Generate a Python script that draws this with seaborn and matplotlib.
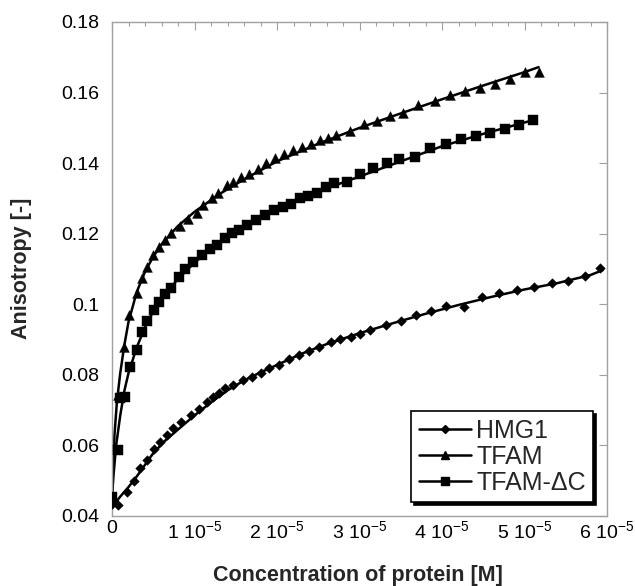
import matplotlib
matplotlib.use("Agg")
import matplotlib.pyplot as plt
import seaborn as sns
import numpy as np
import pandas as pd
from matplotlib.lines import Line2D
from matplotlib.ticker import FixedLocator, FixedFormatter, MultipleLocator

# ---- data (concentration in units of 1e-5 M) ----
hmg1_x = [0, 0.077, 0.178, 0.27, 0.34, 0.42, 0.513, 0.582, 0.663, 0.743,
          0.836, 0.958, 1.055, 1.148, 1.228, 1.30, 1.37, 1.47, 1.584, 1.693,
          1.802, 1.907, 2.028, 2.149, 2.27, 2.392, 2.513, 2.65, 2.764, 2.893,
          3.006, 3.127, 3.321, 3.5, 3.685, 3.863, 4.048, 4.267, 4.481, 4.695,
          4.905, 5.115, 5.33, 5.53, 5.733, 5.915]
hmg1_y = [0.0435, 0.0430, 0.0468, 0.0500, 0.0535, 0.0560, 0.0590, 0.0610, 0.0630, 0.0650,
          0.0667, 0.0685, 0.0703, 0.0722, 0.0737, 0.0748, 0.0762, 0.0771, 0.0785, 0.0795,
          0.0806, 0.0819, 0.0829, 0.0845, 0.0856, 0.0869, 0.0880, 0.0894, 0.0901, 0.0908,
          0.0916, 0.0927, 0.0940, 0.0953, 0.0969, 0.0981, 0.0995, 0.0993, 0.1020, 0.1033,
          0.1040, 0.1048, 0.1059, 0.1067, 0.1080, 0.1102]

tfam_x = [0, 0.07, 0.15, 0.21, 0.30, 0.36, 0.43, 0.50, 0.57, 0.64,
          0.72, 0.82, 0.925, 1.027, 1.107, 1.208, 1.289, 1.39, 1.47, 1.56,
          1.66, 1.77, 1.87, 1.98, 2.09, 2.19, 2.30, 2.41, 2.52, 2.62,
          2.72, 2.885, 3.055, 3.21, 3.37, 3.53, 3.715, 3.915, 4.10, 4.28,
          4.46, 4.64, 4.82, 5.00, 5.17]
tfam_y = [0.0445, 0.0743, 0.0880, 0.0970, 0.1031, 0.1074, 0.1107, 0.1140, 0.1163, 0.1182,
          0.1201, 0.1222, 0.1242, 0.1260, 0.1282, 0.1300, 0.1315, 0.1338, 0.1347, 0.1360,
          0.1368, 0.1382, 0.1401, 0.1415, 0.1425, 0.1437, 0.1447, 0.1454, 0.1466, 0.1470,
          0.1480, 0.1492, 0.1510, 0.1519, 0.1534, 0.1543, 0.1565, 0.1576, 0.1593, 0.1605,
          0.1612, 0.1623, 0.1638, 0.1657, 0.1657]

tfamdc_x = [0, 0.07, 0.10, 0.16, 0.22, 0.30, 0.36, 0.43, 0.51, 0.57,
            0.64, 0.715, 0.81, 0.89, 0.985, 1.087, 1.188, 1.277, 1.37, 1.45,
            1.543, 1.633, 1.745, 1.855, 1.964, 2.07, 2.166, 2.279, 2.38, 2.48,
            2.594, 2.69, 2.845, 3.006, 3.167, 3.33, 3.483, 3.673, 3.855, 4.045,
            4.23, 4.408, 4.582, 4.764, 4.937, 5.107]
tfamdc_y = [0.0455, 0.0587, 0.0735, 0.0738, 0.0823, 0.0870, 0.0922, 0.0953, 0.0984, 0.1007,
            0.1029, 0.1045, 0.1076, 0.1099, 0.1119, 0.1139, 0.1157, 0.1168, 0.1187, 0.1201,
            0.1211, 0.1225, 0.1239, 0.1253, 0.1267, 0.1277, 0.1284, 0.1300, 0.1307, 0.1316,
            0.1333, 0.1343, 0.1347, 0.1369, 0.1385, 0.1400, 0.1411, 0.1418, 0.1442, 0.1454,
            0.1468, 0.1477, 0.1486, 0.1497, 0.1508, 0.1522]

# fitted curves
hmg1_fit_x = [0, 0.05, 0.1, 0.2, 0.3, 0.4, 0.5, 0.65, 0.8, 1.0, 1.2, 1.4, 1.6, 1.8,
              2.0, 2.3, 2.6, 3.0, 3.4, 3.8, 4.2, 4.6, 5.0, 5.4, 5.8, 5.95]
hmg1_fit_y = [0.0430, 0.0440, 0.0455, 0.0482, 0.0512, 0.0545, 0.0578, 0.0615, 0.0645, 0.0685,
              0.0722, 0.0756, 0.0784, 0.0807, 0.0828, 0.0860, 0.0887, 0.0918, 0.0946, 0.0973,
              0.0998, 0.1021, 0.1042, 0.1060, 0.1083, 0.1097]
tfam_fit_x = [0, 0.01, 0.03, 0.06, 0.1, 0.15, 0.2, 0.3, 0.4, 0.5, 0.6, 0.8, 1.0, 1.3,
              1.6, 2.0, 2.5, 3.0, 3.5, 4.0, 4.5, 5.0, 5.17]
tfam_fit_y = [0.0445, 0.0520, 0.0630, 0.0725, 0.0805, 0.0885, 0.0950, 0.1035, 0.1092, 0.1135,
              0.1170, 0.1222, 0.1262, 0.1312, 0.1354, 0.1405, 0.1455, 0.1500, 0.1541, 0.1581,
              0.1620, 0.1658, 0.1672]
tfamdc_fit_x = [0, 0.02, 0.05, 0.1, 0.15, 0.2, 0.3, 0.4, 0.5, 0.6, 0.8, 1.0, 1.3, 1.6,
                2.0, 2.5, 3.0, 3.5, 4.0, 4.5, 5.107]
tfamdc_fit_y = [0.0455, 0.0520, 0.0600, 0.0685, 0.0755, 0.0805, 0.0878, 0.0935, 0.0980, 0.1015,
                0.1072, 0.1118, 0.1176, 0.1222, 0.1272, 0.1320, 0.1362, 0.1405, 0.1448, 0.1483,
                0.1522]

labels = ["HMG1", "TFAM", "TFAM-\u0394C"]
x_ticks = [0, 1, 2, 3, 4, 5, 6]
x_ticklabels = ["0"] + [f"{i} 10$^{{-5}}$" for i in range(1, 7)]
y_ticks = [0.04, 0.06, 0.08, 0.10, 0.12, 0.14, 0.16, 0.18]
y_ticklabels = ["0.04", "0.06", "0.08", "0.1", "0.12", "0.14", "0.16", "0.18"]

# ---- style ----
sns.set_theme(style="white")
plt.rcParams['font.family'] = ['Liberation Sans', 'DejaVu Sans']
plt.rcParams['mathtext.fontset'] = 'custom'
plt.rcParams['mathtext.rm'] = 'Liberation Sans'
plt.rcParams['mathtext.it'] = 'Liberation Sans:italic'
plt.rcParams['mathtext.bf'] = 'Liberation Sans:bold'

W, H = 635, 586
fig = plt.figure(figsize=(W / 100, H / 100), dpi=100)
ax = fig.add_axes([112 / W, 1 - 516 / H, 495 / W, 494 / H])

series = [
    (hmg1_x, hmg1_y, hmg1_fit_x, hmg1_fit_y, "D", 24),
    (tfam_x, tfam_y, tfam_fit_x, tfam_fit_y, "^", 50),
    (tfamdc_x, tfamdc_y, tfamdc_fit_x, tfamdc_fit_y, "s", 42),
]
for x, y, fx, fy, mk, s in series:
    sns.lineplot(x=fx, y=fy, ax=ax, color="black", linewidth=1.8, sort=False,
                 estimator=None, legend=False, zorder=2)
    sns.scatterplot(x=x, y=y, ax=ax, marker=mk, s=s, color="black",
                    edgecolor="black", linewidth=0.3, legend=False, zorder=3)

ax.set_xlim(0, 6)
ax.set_ylim(0.04, 0.18)
ax.xaxis.set_major_locator(FixedLocator(x_ticks))
ax.xaxis.set_major_formatter(FixedFormatter(x_ticklabels))
ax.xaxis.set_minor_locator(MultipleLocator(0.2))
ax.yaxis.set_major_locator(FixedLocator(y_ticks))
ax.yaxis.set_major_formatter(FixedFormatter(y_ticklabels))

gray = "#a0a0a0"
for sp in ax.spines.values():
    sp.set_color(gray)
    sp.set_linewidth(1.0)
    sp.set_visible(True)

ax.tick_params(axis="both", which="both", direction="in", top=True, right=True,
               color=gray, labelcolor="black", width=0.8)
ax.tick_params(axis="both", which="major", length=6, labelsize=14)
ax.tick_params(axis="x", which="minor", length=3)
ax.tick_params(axis="x", which="major", pad=3)
ax.tick_params(axis="y", which="major", pad=9)
ax.set_xlabel("")
ax.set_ylabel("")

fig.text(358 / W, 1 - 575 / H, "Concentration of protein [M]", ha="center", va="center",
         fontsize=15.5, fontweight="bold")
fig.text(22 / W, 1 - 268 / H, "Anisotropy [-]", ha="center", va="center", rotation=90,
         fontsize=15.5, fontweight="bold")

handles = [
    Line2D([], [], color="black", lw=1.8, marker="D", markersize=4.5),
    Line2D([], [], color="black", lw=1.8, marker="^", markersize=6),
    Line2D([], [], color="black", lw=1.8, marker="s", markersize=5.5),
]
leg = ax.legend(handles, labels, loc="lower right", bbox_to_anchor=(0.972, 0.028),
                borderaxespad=0, fontsize=18, handlelength=2.1, handletextpad=0.2,
                borderpad=0.3, labelspacing=0.08, fancybox=False, framealpha=1,
                edgecolor="black", shadow={"color": "black", "alpha": 1})
leg.get_frame().set_linewidth(1.2)

fig.savefig("out.png", dpi=100)
